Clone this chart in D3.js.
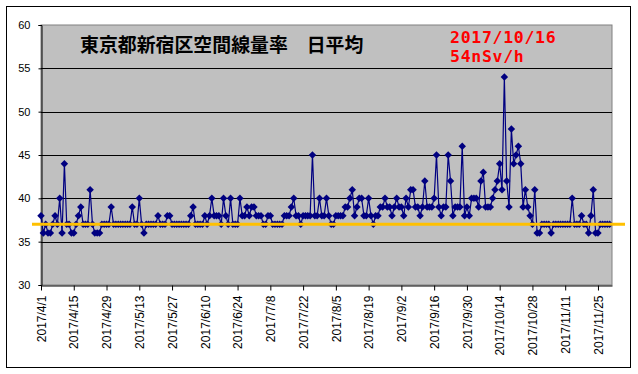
<!DOCTYPE html>
<html>
<head>
<meta charset="utf-8">
<script src="https://cdn.jsdelivr.net/npm/d3@7"></script>
<style>
  body { margin: 0; background: #fff; }
  svg { display: block; }
</style>
</head>
<body>
<svg id="chart" width="638" height="374"></svg>
<script>
// daily averages, nSv/h, one array per month (2017/4/1 - 2017/11/30)
let aprVals = [38, 36, 37, 36, 36, 37, 38, 37, 40, 36, 44, 37, 37, 36, 36, 37, 38, 39, 37, 37,
               37, 41, 37, 36, 36, 36, 37, 37, 37, 37]
let mayVals = [39, 37, 37, 37, 37, 37, 37, 37, 37, 39, 37, 37, 40, 37, 36, 37, 37, 37, 37, 37,
               38, 37, 37, 37, 38, 38, 37, 37, 37, 37, 37]
let junVals = [37, 37, 37, 38, 39, 37, 37, 37, 37, 38, 37, 38, 40, 38, 38, 38, 37, 40, 38, 37,
               40, 37, 37, 37, 40, 38, 38, 39, 38, 39]
let julVals = [39, 38, 38, 38, 37, 37, 38, 38, 37, 37, 37, 37, 37, 38, 38, 38, 39, 40, 38, 38,
               37, 38, 38, 38, 38, 45, 38, 38, 40, 38, 38]
let augVals = [40, 38, 37, 37, 38, 38, 38, 38, 39, 39, 40, 41, 38, 39, 40, 40, 38, 38, 40, 38,
               37, 38, 38, 39, 39, 40, 39, 39, 38, 39, 40]
let sepVals = [39, 39, 38, 40, 39, 41, 41, 39, 39, 38, 39, 42, 39, 39, 39, 40, 45, 39, 38, 39,
               39, 45, 42, 38, 39, 39, 39, 46, 38, 39]
let octVals = [38, 40, 40, 40, 39, 42, 43, 39, 39, 39, 40, 41, 42, 44, 41, 54, 42, 39, 48, 44,
               45, 46, 44, 39, 41, 39, 38, 37, 41, 36, 36]
let novVals = [37, 37, 37, 37, 36, 37, 37, 37, 37, 37, 37, 37, 37, 40, 37, 37, 37, 38, 37, 37,
               36, 38, 41, 36, 36, 37, 37, 37, 37, 37]

let startDay = "2017/4/1"
let endDay = "2017/12/1"
let tickLabels = ["2017/4/1", "2017/4/15", "2017/4/29", "2017/5/13", "2017/5/27", "2017/6/10",
    "2017/6/24", "2017/7/8", "2017/7/22", "2017/8/5", "2017/8/19", "2017/9/2", "2017/9/16",
    "2017/9/30", "2017/10/14", "2017/10/28", "2017/11/11", "2017/11/25"]
let yTicks = [30, 35, 40, 45, 50, 55, 60]
let refLevel = 37
let title = "東京都新宿区空間線量率　日平均"
let noteLines = ["2017/10/16", "54nSv/h"]

let parseDay = d3.timeParse("%Y/%m/%d")
let allVals = [].concat(aprVals, mayVals, junVals, julVals, augVals, sepVals, octVals, novVals)
let data = allVals.map(function (v, i) {
    return {date: d3.timeDay.offset(parseDay(startDay), i), value: v}
})

let svg = d3.select('#chart')
let margin = {top: 25, right: 26, bottom: 89, left: 41}
let width = +svg.attr('width')
let height = +svg.attr('height')

// outer frame
svg.append("rect")
    .attr("x", 6.5).attr("y", 6.5)
    .attr("width", 624).attr("height", 361)
    .attr("fill", "#fff").attr("stroke", "#000")

let x = d3.scaleTime()
    .domain([parseDay(startDay), parseDay(endDay)])
    .range([margin.left, width - margin.right])
let y = d3.scaleLinear()
    .domain([30, 60])
    .range([height - margin.bottom, margin.top])

// plot area
svg.append("rect")
    .attr("x", margin.left).attr("y", margin.top)
    .attr("width", x.range()[1] - x.range()[0])
    .attr("height", y.range()[0] - y.range()[1])
    .attr("fill", "#c0c0c0").attr("stroke", "#808080")

// gridlines
svg.append("g")
    .selectAll("line")
    .data(yTicks.slice(1, -1))
    .enter().append("line")
    .attr("x1", x.range()[0]).attr("x2", x.range()[1])
    .attr("y1", function (d) {return Math.round(y(d)) + 0.5})
    .attr("y2", function (d) {return Math.round(y(d)) + 0.5})
    .attr("stroke", "#000")

//Y axis
let yAxis = svg.append("g")
    .attr("transform", "translate(" + (margin.left + 0.5) + ",0)")
    .call(d3.axisLeft(y).tickValues(yTicks).tickSize(3).tickPadding(8))
yAxis.selectAll("text").style("font-family", "Arial, 'Liberation Sans'").style("font-size", "11px").attr("fill", "#000")
yAxis.select(".domain").attr("stroke", "#000")

//X axis
let xAxis = svg.append("g")
    .attr("transform", "translate(0," + (y.range()[0] + 0.5) + ")")
    .call(d3.axisBottom(x)
        .tickValues(tickLabels.map(parseDay))
        .tickFormat(d3.timeFormat("%Y/%-m/%-d"))
        .tickSize(5)
        .tickSizeOuter(0))
xAxis.select(".domain").attr("stroke", "#000")
xAxis.selectAll("text")
    .style("font-family", "Arial, 'Liberation Sans'")
    .style("font-size", "12px")
    .attr("fill", "#000")
    .attr("text-anchor", "end")
    .attr("transform", "rotate(-90)")
    .attr("x", -10).attr("y", 0).attr("dy", "0.35em")

// series
let line = d3.line()
    .x(function (d) {return x(d.date)})
    .y(function (d) {return y(d.value)})
svg.append("path")
    .datum(data)
    .attr("d", line)
    .attr("fill", "none")
    .attr("stroke", "#000080")
    .attr("stroke-width", 1.2)

svg.append("g")
    .selectAll("path")
    .data(data)
    .enter().append("path")
    .attr("d", d3.symbol(d3.symbolSquare, 28))
    .attr("transform", function (d) {
        return "translate(" + x(d.date) + "," + y(d.value) + ") rotate(45)"
    })
    .attr("fill", "#000080")

// reference level
svg.append("line")
    .attr("x1", 32).attr("x2", 625)
    .attr("y1", y(refLevel)).attr("y2", y(refLevel))
    .attr("stroke", "#ffc000")
    .attr("stroke-width", 3)

// titles
svg.append("text")
    .attr("x", 80).attr("y", 51.5)
    .style("font-family", "'Noto Sans CJK JP'")
    .style("font-weight", "bold")
    .style("font-size", "18.9px")
    .attr("fill", "#000")
    .text(title)

svg.append("g").selectAll("text")
    .data(noteLines)
    .enter().append("text")
    .attr("x", 450)
    .attr("y", function (d, i) {return 43 + i * 19})
    .style("font-family", "'DejaVu Sans Mono'")
    .style("font-weight", "bold")
    .style("font-size", "16.5px")
    .style("letter-spacing", "0.7px")
    .attr("fill", "#ff0000")
    .text(function (d) {return d})
</script>
</body>
</html>
